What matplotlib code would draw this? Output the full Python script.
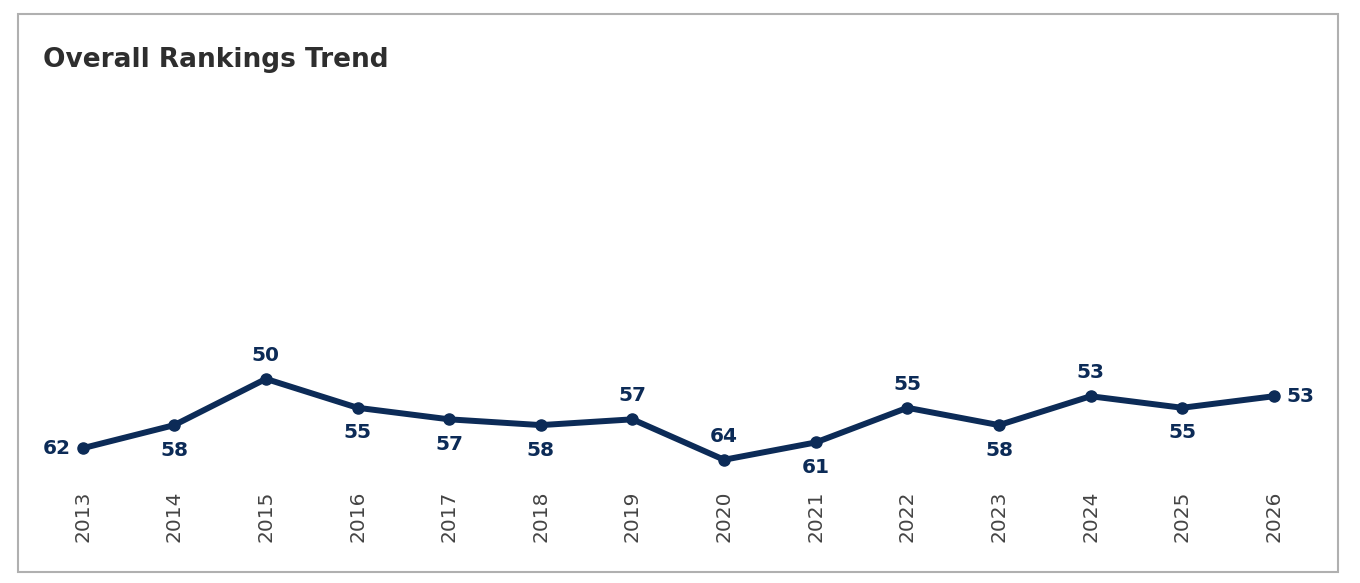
import matplotlib.pyplot as plt
from matplotlib.patches import Rectangle

plt.rcParams['font.family'] = ['DejaVu Sans']

years = ['2013', '2014', '2015', '2016', '2017', '2018', '2019',
         '2020', '2021', '2022', '2023', '2024', '2025', '2026']
ranks = [62, 58, 50, 55, 57, 58, 57, 64, 61, 55, 58, 53, 55, 53]
# where each value label sits relative to its point
label_pos = ['left', 'below', 'above', 'below', 'below', 'below', 'above',
             'above', 'below', 'above', 'below', 'above', 'below', 'right']

line_color = '#0c2b57'

fig = plt.figure(figsize=(13.6, 5.83), dpi=100)
fig.patch.set_facecolor('white')

# outer card border
fig.patches.append(Rectangle((18 / 1360, 1 - 572 / 583), 1320 / 1360, 558 / 583,
                             transform=fig.transFigure, fill=False,
                             edgecolor='#b0b0b0', linewidth=1.5))

fig.text(43 / 1360, 1 - 60 / 583, 'Overall Rankings Trend', fontsize=19,
         fontweight='bold', color='#2e2e2e', va='center', ha='left')

ax = fig.add_axes([35 / 1360, 1 - 480 / 583, 1270 / 1360, 390 / 583])
x = list(range(len(years)))
ax.plot(x, ranks, color=line_color, linewidth=4.3, marker='o', markersize=8,
        solid_joinstyle='round')

offsets = {'above': (0, 17, 'center'), 'below': (0, -18, 'center'),
           'left': (-19, 0, 'center'), 'right': (19, 0, 'center')}
for xi, r, pos in zip(x, ranks, label_pos):
    dx, dy, ha = offsets[pos]
    ax.annotate(str(r), (xi, r), xytext=(dx, dy), textcoords='offset points',
                ha=ha, va='center', fontsize=14.5, fontweight='bold',
                color=line_color)

ax.set_xlim(-0.52, 13.34)
ax.set_ylim(67.5, 0)
ax.set_xticks(x)
ax.set_xticklabels(years, rotation=90, fontsize=14.5, color='#444444')
ax.tick_params(axis='x', length=0, pad=7.5)
ax.set_yticks([])
for s in ax.spines.values():
    s.set_visible(False)

fig.savefig('out.png', dpi=100)
